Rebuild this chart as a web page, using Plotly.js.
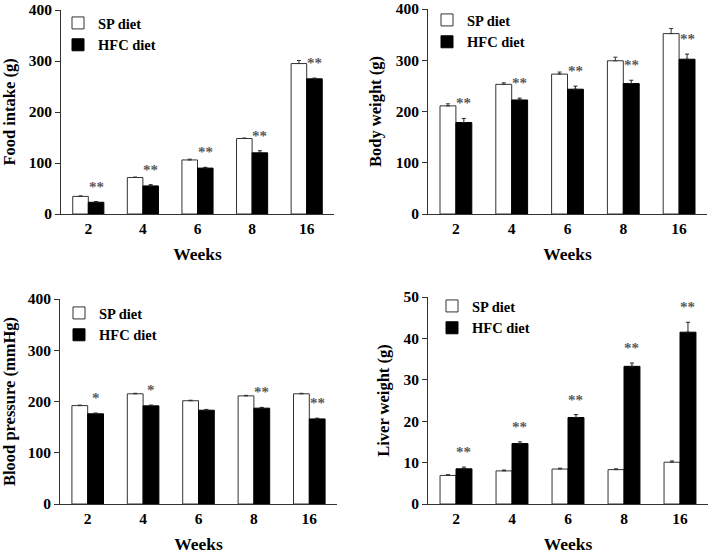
<!DOCTYPE html>
<html>
<head>
<meta charset="utf-8">
<script src="https://cdn.plot.ly/plotly-3.0.1.min.js"></script>
<style>html,body{margin:0;padding:0;background:#fff;}</style>
</head>
<body>
<div id="chart" style="width:709px;height:554px;"></div>
<script>
// ---- data ----
const weeks = ['2', '4', '6', '8', '16'];
const seriesNames = ['SP diet', 'HFC diet'];

const foodSP = [34.5, 71.5, 106, 148, 295];
const foodSPErr = [1, 1, 1.5, 1, 6];
const foodHFC = [23, 55, 90, 120, 265];
const foodHFCErr = [1.5, 2.5, 1.5, 4, 1.5];
const foodSig = ['**', '**', '**', '**', '**'];

const bodySP = [211, 253, 273, 299, 352];
const bodySPErr = [4, 3, 4, 7, 10];
const bodyHFC = [178.5, 222.5, 243.5, 254.5, 302];
const bodyHFCErr = [8, 3.5, 6, 6.5, 10];
const bodySig = ['**', '**', '**', '**', '**'];

const bpSP = [192, 215, 201.5, 211, 215];
const bpSPErr = [1, 1, 1, 1, 1];
const bpHFC = [176, 191.5, 183, 187, 166];
const bpHFCErr = [1.5, 1.5, 1.5, 1.5, 1.5];
const bpSig = ['*', '*', '', '**', '**'];

const liverSP = [6.9, 8.0, 8.45, 8.3, 10.1];
const liverSPErr = [0.2, 0.2, 0.2, 0.2, 0.3];
const liverHFC = [8.5, 14.6, 20.9, 33.25, 41.5];
const liverHFCErr = [0.4, 0.4, 0.7, 0.8, 2.4];
const liverSig = ['**', '**', '**', '**', '**'];

const yTitles = ['Food intake (g)', 'Body weight (g)', 'Blood pressure (mmHg)', 'Liver weight (g)'];
const yRanges = [[0, 400], [0, 400], [0, 400], [0, 50]];
const yDticks = [100, 100, 100, 10];
const xTitle = 'Weeks';

// ---- layout / style ----
const W = 709, H = 554;
const FONT = 'Liberation Serif, Times New Roman, serif';
const BARGAP = 0.43;
const panels = [
  {sp: foodSP, spErr: foodSPErr, hfc: foodHFC, hfcErr: foodHFCErr, sig: foodSig,
   px: [61, 334], py: [10, 214], leg: [58, 7]},
  {sp: bodySP, spErr: bodySPErr, hfc: bodyHFC, hfcErr: bodyHFCErr, sig: bodySig,
   px: [428, 707], py: [9, 214], leg: [427, 4]},
  {sp: bpSP, spErr: bpSPErr, hfc: bpHFC, hfcErr: bpHFCErr, sig: bpSig,
   px: [60, 337], py: [299, 504], leg: [59, 297]},
  {sp: liverSP, spErr: liverSPErr, hfc: liverHFC, hfcErr: liverHFCErr, sig: liverSig,
   px: [428, 708], py: [297, 504], leg: [432, 290]}
];

const data = [];
const annotations = [];
const layout = {
  width: W, height: H,
  margin: {l: 0, r: 0, t: 0, b: 0},
  paper_bgcolor: '#fff', plot_bgcolor: '#fff',
  barmode: 'group', bargap: BARGAP, bargroupgap: 0,
  font: {family: FONT, color: '#000', size: 15, weight: 'bold'},
  annotations: annotations,
  showlegend: true
};

panels.forEach((p, k) => {
  const n = k + 1;
  const xa = n === 1 ? 'x' : 'x' + n;
  const ya = n === 1 ? 'y' : 'y' + n;
  const legId = n === 1 ? 'legend' : 'legend' + n;
  data.push({
    type: 'bar', name: seriesNames[0], x: weeks, y: p.sp, xaxis: xa, yaxis: ya, legend: legId,
    marker: {color: '#fff', line: {color: '#333', width: 1}},
    error_y: {type: 'data', array: p.spErr, arrayminus: p.spErr.map(() => 0), symmetric: false,
              color: '#333', thickness: 1, width: 2},
    hoverinfo: 'x+y'
  });
  data.push({
    type: 'bar', name: seriesNames[1], x: weeks, y: p.hfc, xaxis: xa, yaxis: ya, legend: legId,
    marker: {color: '#000', line: {color: '#000', width: 1}},
    error_y: {type: 'data', array: p.hfcErr, arrayminus: p.hfcErr.map(() => 0), symmetric: false,
              color: '#222', thickness: 1, width: 2},
    hoverinfo: 'x+y'
  });
  layout['xaxis' + (n === 1 ? '' : n)] = {
    domain: [p.px[0] / W, p.px[1] / W], anchor: ya,
    type: 'category', categoryorder: 'array', categoryarray: weeks,
    showline: true, linecolor: '#333', linewidth: 1, ticks: '', showgrid: false, zeroline: false,
    tickfont: {family: FONT, size: 15.5, color: '#000', weight: 'bold'},
    title: {text: xTitle, font: {family: FONT, size: 17.5, color: '#000', weight: 'bold'}, standoff: 12},
    fixedrange: true
  };
  layout['yaxis' + (n === 1 ? '' : n)] = {
    domain: [1 - p.py[1] / H, 1 - p.py[0] / H], anchor: xa,
    range: yRanges[k], dtick: yDticks[k], tick0: 0,
    showline: true, linecolor: '#333', linewidth: 1, ticks: 'outside', ticklen: 5, tickcolor: '#333',
    showgrid: false, zeroline: false,
    tickfont: {family: FONT, size: 15.5, color: '#000', weight: 'bold'},
    title: {text: yTitles[k], font: {family: FONT, size: 16.5, color: '#000', weight: 'bold'}, standoff: 9},
    fixedrange: true
  };
  layout[legId] = {
    x: p.leg[0] / W, y: 1 - p.leg[1] / H, xanchor: 'left', yanchor: 'top',
    bgcolor: 'rgba(0,0,0,0)', borderwidth: 0,
    font: {family: FONT, size: 14.5, color: '#000', weight: 'bold'},
    tracegroupgap: 0, traceorder: 'normal'
  };
  // significance marks above the HFC bars
  p.sig.forEach((s, i) => {
    if (!s) return;
    annotations.push({
      xref: xa, yref: ya,
      x: i + (1 - BARGAP) / 4, y: p.hfc[i] + p.hfcErr[i],
      text: s, showarrow: false, xanchor: 'center', yanchor: 'middle', yshift: 15,
      font: {family: FONT, size: 15, color: '#5a5a5a', weight: 'bold'}
    });
  });
});

Plotly.newPlot('chart', data, layout, {displayModeBar: false, staticPlot: true});
</script>
</body>
</html>
